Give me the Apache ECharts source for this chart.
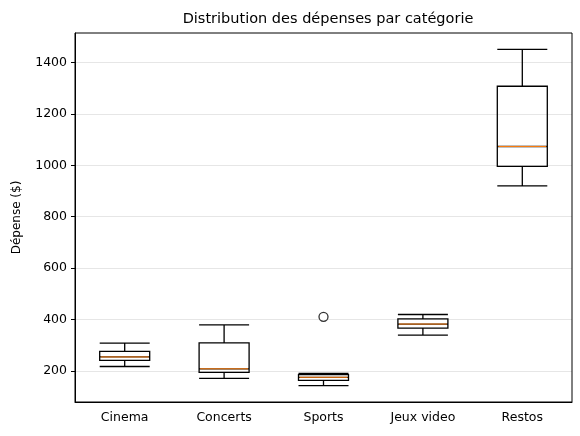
<!DOCTYPE html>
<html><head><meta charset="utf-8">
<script src="https://cdn.jsdelivr.net/npm/echarts@6/dist/echarts.min.js"></script>
<style>html,body{margin:0;padding:0;background:#fff}#main{width:580px;height:436px}</style>
</head><body><div id="main"></div>
<script>
var categories = ['Cinema', 'Concerts', 'Sports', 'Jeux video', 'Restos'];
// [min, Q1, median, Q3, max]
var boxValues = [
	[218, 242, 255, 277, 309],
	[172, 195, 209, 310, 380],
	[144, 164, 176, 186, 191],
	[340, 367, 383, 403, 420],
	[920, 996, 1073, 1307, 1450]
];
var outliers = [[2, 411]];
var yTicks = [200, 400, 600, 800, 1000, 1200, 1400];

var chart = echarts.init(document.getElementById('main'));
var font = 'DejaVu Sans';
chart.setOption({
	animation : false,
	title : {
		text : 'Distribution des dépenses par catégorie',
		left : 323, top : 7, textAlign : 'center',
		textStyle : {fontFamily : font, fontSize : 14.5, fontWeight : 'normal', color : '#000'}
	},
	grid : {left : 75, right : 8, top : 33, bottom : 34},
	xAxis : {
		type : 'category', data : categories,
		axisLine : {lineStyle : {color : '#000'}},
		axisTick : {alignWithLabel : true, length : 4, lineStyle : {color : '#000'}},
		axisLabel : {fontFamily : font, fontSize : 12.5, color : '#000', margin : 9}
	},
	yAxis : {
		type : 'value', min : 80, max : 1514,
		name : 'Dépense ($)', nameLocation : 'middle', nameGap : 52,
		nameTextStyle : {fontFamily : font, fontSize : 12, color : '#000'},
		axisLine : {show : true, lineStyle : {color : '#000'}},
		axisTick : {show : true, length : 4, customValues : yTicks, lineStyle : {color : '#000'}},
		axisLabel : {customValues : yTicks, fontFamily : font, fontSize : 12.5, color : '#000',
			formatter : function(v){ return String(v); }},
		splitLine : {show : true, lineStyle : {color : '#e6e6e6'}}
	},
	series : [
		{
			type : 'boxplot', data : boxValues, boxWidth : [50, 50],
			itemStyle : {color : 'transparent', borderColor : '#000', borderWidth : 1.3}
		},
		{
			type : 'custom', z : 5,
			data : boxValues.map(function(b, i){ return [i, b[2]]; }),
			renderItem : function(params, api){
				var p = api.coord([api.value(0), api.value(1)]);
				return {type : 'line', shape : {x1 : p[0] - 24, y1 : p[1], x2 : p[0] + 24, y2 : p[1]},
					style : {stroke : '#ff7f0e', lineWidth : 1}};
			}
		},
		{
			type : 'scatter', data : outliers, symbol : 'circle', symbolSize : 9,
			itemStyle : {color : '#fff', borderColor : '#000', borderWidth : 1.3}
		}
	]
});
// top/right frame
chart.setOption({graphic : [{type : 'rect', shape : {x : 75, y : 33, width : 497, height : 369},
	style : {fill : 'none', stroke : '#000', lineWidth : 1}, silent : true}]});
</script></body></html>
